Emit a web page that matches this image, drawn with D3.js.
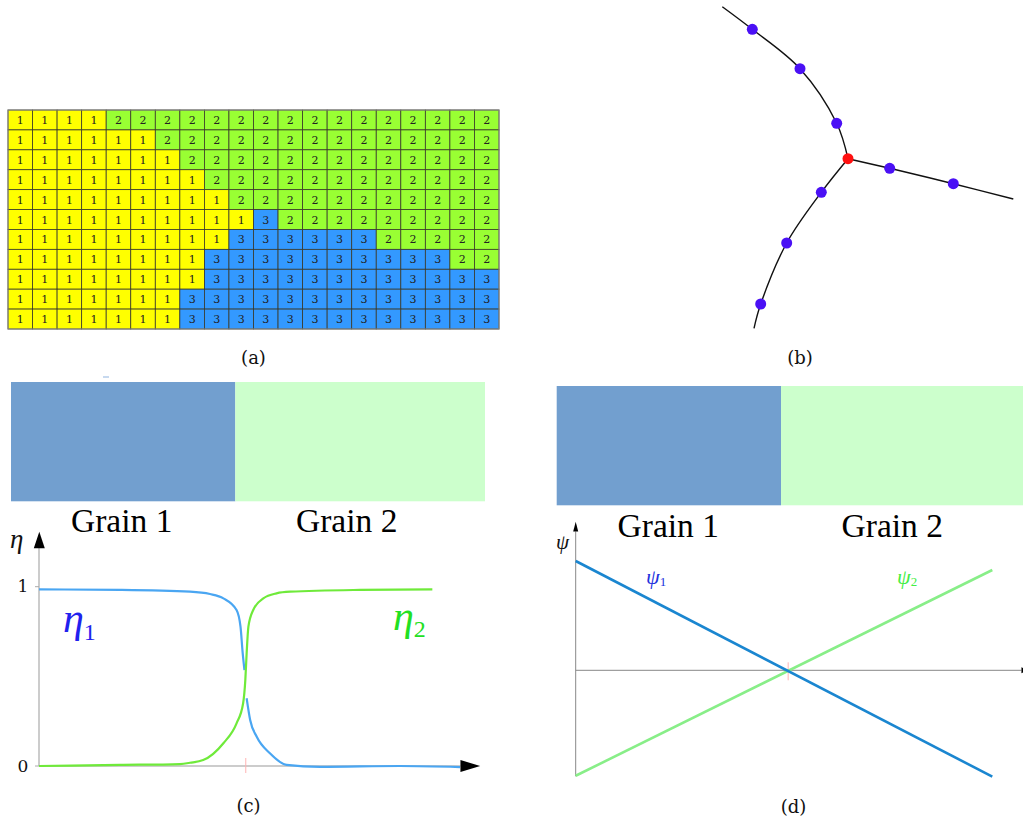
<!DOCTYPE html>
<html><head><meta charset="utf-8">
<script src="https://cdn.jsdelivr.net/npm/d3@7"></script>
<style>html,body{margin:0;padding:0;background:#fff;} svg{display:block;}</style>
</head><body>
<script>
// ---------- DATA ----------
// (a) grain id map, 11 rows x 20 columns
const grainIds = [
[1,1,1,1,2,2,2,2,2,2,2,2,2,2,2,2,2,2,2,2],
[1,1,1,1,1,1,2,2,2,2,2,2,2,2,2,2,2,2,2,2],
[1,1,1,1,1,1,1,2,2,2,2,2,2,2,2,2,2,2,2,2],
[1,1,1,1,1,1,1,1,2,2,2,2,2,2,2,2,2,2,2,2],
[1,1,1,1,1,1,1,1,1,2,2,2,2,2,2,2,2,2,2,2],
[1,1,1,1,1,1,1,1,1,1,3,2,2,2,2,2,2,2,2,2],
[1,1,1,1,1,1,1,1,1,3,3,3,3,3,3,2,2,2,2,2],
[1,1,1,1,1,1,1,1,3,3,3,3,3,3,3,3,3,3,2,2],
[1,1,1,1,1,1,1,1,3,3,3,3,3,3,3,3,3,3,3,3],
[1,1,1,1,1,1,1,3,3,3,3,3,3,3,3,3,3,3,3,3],
[1,1,1,1,1,1,1,3,3,3,3,3,3,3,3,3,3,3,3,3]
];
const grainColors = {1:"#ffff00", 2:"#99ff33", 3:"#3399ff"};

// (b) grain boundary network (local coordinates)
const branchUpper = [[22.3,6.7],[52.3,29.3],[100,68.7],[136.7,123.3],[148,158.7]];
const branchRight = [[148,158.7],[189.7,168.3],[253.3,183.7],[313.3,199]];
const branchLower = [[148,158.7],[121.3,192.3],[86.7,243],[60.7,304],[54,328.3]];
const boundaryNodes = [[52.3,29.3],[100,68.7],[136.7,123.3],[189.7,168.3],[253.3,183.7],[121.3,192.3],[86.7,243],[60.7,304]];
const tripleJunction = [148,158.7];

// (c) order parameters across the interface (x in %, eta value)
const eta1 = [[0,0.985],[18.45,0.982],[34.4,0.972],[38.95,0.959],[42.0,0.935],[45.0,0.870],[45.9,0.777],[46.4,0.629],[46.8,0.535],
  null,[47.3,0.378],[48.1,0.257],[49.6,0.163],[52.6,0.071],[56.4,0.006],[64.0,-0.005],[82.2,0.0],[95.9,-0.006]];
const eta2 = [[0,0.0],[18.45,0.006],[32.1,0.011],[34.4,0.018],[37.4,0.033],[42.0,0.127],[45.0,0.238],[46.5,0.350],[47.0,0.480],
  [47.3,0.629],[47.7,0.777],[48.8,0.870],[51.1,0.935],[54.1,0.963],[57.2,0.972],[73.1,0.982],[89.6,0.985]];
const etaTicks = [0, 1];
const interfaceC = 47.1;

// (d) linear functions
const psi1 = [[0,1.0],[1,-0.973]];
const psi2 = [[0,-0.965],[1,0.918]];
const interfaceD = 0.51;

const grainLabels = ["Grain 1", "Grain 2"];
const panelLabels = ["(a)", "(b)", "(c)", "(d)"];

// ---------- DRAW ----------
const svg = d3.select("body").append("svg").attr("width",1023).attr("height",823);
const serif = "'Liberation Serif', 'Times New Roman', serif";
const dserif = "'DejaVu Serif', serif";

// (a) grid
const gA = svg.append("g");
const cx = d3.scaleBand().domain(d3.range(20)).range([8, 499]);
const cy = d3.scaleBand().domain(d3.range(11)).range([110, 329]);
const cells = [];
grainIds.forEach((row,r)=>row.forEach((v,c)=>cells.push({r,c,v})));
gA.selectAll("rect").data(cells).join("rect")
  .attr("x",d=>cx(d.c)).attr("y",d=>cy(d.r))
  .attr("width",cx.bandwidth()).attr("height",cy.bandwidth())
  .attr("fill",d=>grainColors[d.v]).attr("stroke","#3a3a2a").attr("stroke-width",0.8);
gA.selectAll("text").data(cells).join("text")
  .attr("x",d=>cx(d.c)+cx.bandwidth()/2).attr("y",d=>cy(d.r)+cy.bandwidth()/2+4)
  .attr("text-anchor","middle").attr("font-family",dserif).attr("font-size",11)
  .attr("fill","#222").text(d=>d.v);
gA.append("rect").attr("x",8).attr("y",110).attr("width",491).attr("height",219)
  .attr("fill","none").attr("stroke","#888").attr("stroke-width",1);

// (b) network
const bx = d3.scaleLinear().domain([0,300]).range([700,1000]);
const by = d3.scaleLinear().domain([0,300]).range([0,300]);
const bline = d3.line().x(d=>bx(d[0])).y(d=>by(d[1])).curve(d3.curveCatmullRom.alpha(0.5));
[branchUpper, branchRight, branchLower].forEach(b=>{
  svg.append("path").attr("d",bline(b)).attr("fill","none").attr("stroke","#111").attr("stroke-width",1.4);
});
svg.selectAll("circle.node").data(boundaryNodes).join("circle").attr("class","node")
  .attr("cx",d=>bx(d[0])).attr("cy",d=>by(d[1])).attr("r",5.5).attr("fill","#4a10f5");
svg.append("circle").attr("cx",bx(tripleJunction[0])).attr("cy",by(tripleJunction[1])).attr("r",5.5).attr("fill","#ff1010");

// panel labels
const labelPos = [[253.5,364],[800,364],[248.5,812],[793.5,813]];
panelLabels.forEach((t,i)=>{
  svg.append("text").attr("x",labelPos[i][0]).attr("y",labelPos[i][1]).attr("text-anchor","middle")
    .attr("font-family",dserif).attr("font-size",18).attr("fill","#111").text(t);
});

// grain bars
function grainBar(x0, xm, x1, y0, y1, textY, c1, c2){
  svg.append("rect").attr("x",x0).attr("y",y0).attr("width",xm-x0).attr("height",y1-y0).attr("fill","#729fcf");
  svg.append("rect").attr("x",xm).attr("y",y0).attr("width",x1-xm).attr("height",y1-y0).attr("fill","#ccffcc");
  svg.append("text").attr("x",c1).attr("y",textY).attr("text-anchor","middle").attr("font-family",serif)
    .attr("font-size",33.5).attr("fill","#000").text(grainLabels[0]);
  svg.append("text").attr("x",c2).attr("y",textY).attr("text-anchor","middle").attr("font-family",serif)
    .attr("font-size",33.5).attr("fill","#000").text(grainLabels[1]);
}
grainBar(11, 235.3, 485, 382, 501.3, 532, 121.7, 346.7);
svg.append("rect").attr("x",103).attr("y",376.5).attr("width",6).attr("height",1).attr("fill","#8fb4e0");
grainBar(556.7, 781, 1023, 386, 505.3, 536.7, 668.3, 892.3);

// (c) eta plot
const xc = d3.scaleLinear().domain([0,100]).range([39,478]);
const yc = d3.scaleLinear().domain([0,1]).range([766,586.7]);
svg.append("line").attr("x1",xc(0)).attr("x2",xc(0)).attr("y1",yc(0)).attr("y2",yc(1.22))
  .attr("stroke","#aaa").attr("stroke-width",1.2);
svg.append("line").attr("x1",xc(0)).attr("x2",xc(96)).attr("y1",yc(0)).attr("y2",yc(0))
  .attr("stroke","#bbb").attr("stroke-width",1.5);
svg.append("path").attr("d",`M${xc(0)+0.3},${yc(1.307)} L${xc(0)-5.2},${yc(1.215)} L${xc(0)+5.8},${yc(1.215)} Z`).attr("fill","#000");
svg.append("path").attr("d",`M${xc(100.5)},${yc(0)} L${xc(96)},${yc(0)-6} L${xc(96)},${yc(0)+6} Z`).attr("fill","#000");
etaTicks.forEach(t=>{
  svg.append("line").attr("x1",xc(0)-4).attr("x2",xc(0)).attr("y1",yc(t)).attr("y2",yc(t)).attr("stroke","#aaa");
  svg.append("text").attr("x",23).attr("y",yc(t)+5.5).attr("text-anchor","middle").attr("font-family",dserif)
    .attr("font-size",17).attr("fill","#111").text(t);
});
svg.append("line").attr("x1",xc(interfaceC)).attr("x2",xc(interfaceC)).attr("y1",yc(0)-8).attr("y2",yc(0)+7)
  .attr("stroke","#ffb3b3").attr("stroke-width",1);
const lineC = d3.line().defined(d=>d!==null).x(d=>xc(d[0])).y(d=>yc(d[1])).curve(d3.curveMonotoneX);
svg.append("path").attr("d",lineC(eta1)).attr("fill","none").attr("stroke","#4aa6f2").attr("stroke-width",2.2);
svg.append("path").attr("d",lineC(eta2)).attr("fill","none").attr("stroke","#6fea3a").attr("stroke-width",2.2);
svg.append("text").attr("x",10).attr("y",548).attr("font-family",serif).attr("font-style","italic")
  .attr("font-size",27).attr("fill","#111").text("η");
const e1 = svg.append("text").attr("x",63).attr("y",632).attr("font-family",serif).attr("fill","#1f22ee");
e1.append("tspan").attr("font-style","italic").attr("font-size",42).text("η");
e1.append("tspan").attr("font-size",24).attr("dx",0).attr("dy",8).text("1");
const e2 = svg.append("text").attr("x",393).attr("y",630).attr("font-family",serif).attr("fill","#22e022");
e2.append("tspan").attr("font-style","italic").attr("font-size",42).text("η");
e2.append("tspan").attr("font-size",24).attr("dx",0).attr("dy",7).text("2");

// (d) psi plot
const xd = d3.scaleLinear().domain([0,1]).range([575.7,992.3]);
const yd = d3.scaleLinear().domain([-1,1]).range([779.6,561]);
svg.append("line").attr("x1",xd(0)).attr("x2",xd(0)).attr("y1",yd(-0.97)).attr("y2",yd(1.27))
  .attr("stroke","#888").attr("stroke-width",1);
svg.append("line").attr("x1",xd(0)).attr("x2",xd(1.07)).attr("y1",yd(0)).attr("y2",yd(0))
  .attr("stroke","#888").attr("stroke-width",1);
svg.append("path").attr("d",`M${xd(0)},${yd(1.36)} L${xd(0)-2.5},${yd(1.27)} L${xd(0)+2.5},${yd(1.27)} Z`).attr("fill","#000");
svg.append("path").attr("d",`M${xd(1.085)},${yd(0)} L${xd(1.07)},${yd(0)-3} L${xd(1.07)},${yd(0)+3} Z`).attr("fill","#000");
svg.append("line").attr("x1",xd(interfaceD)).attr("x2",xd(interfaceD)).attr("y1",yd(0)-8).attr("y2",yd(0)+10)
  .attr("stroke","#ffb3b3").attr("stroke-width",1);
const lineD = d3.line().x(d=>xd(d[0])).y(d=>yd(d[1]));
svg.append("path").attr("d",lineD(psi2)).attr("fill","none").attr("stroke","#88ee88").attr("stroke-width",2.6);
svg.append("path").attr("d",lineD(psi1)).attr("fill","none").attr("stroke","#1a86d0").attr("stroke-width",2.6);
svg.append("text").attr("x",556).attr("y",549).attr("font-family",serif).attr("font-style","italic")
  .attr("font-size",21).attr("fill","#111").text("ψ");
const p1 = svg.append("text").attr("x",646).attr("y",584).attr("font-family",serif).attr("fill","#2233dd");
p1.append("tspan").attr("font-style","italic").attr("font-size",22).text("ψ");
p1.append("tspan").attr("font-size",13).attr("dy",2).text("1");
const p2 = svg.append("text").attr("x",897).attr("y",584).attr("font-family",serif).attr("fill","#44ee44");
p2.append("tspan").attr("font-style","italic").attr("font-size",22).text("ψ");
p2.append("tspan").attr("font-size",13).attr("dy",2).text("2");
</script>
</body></html>
